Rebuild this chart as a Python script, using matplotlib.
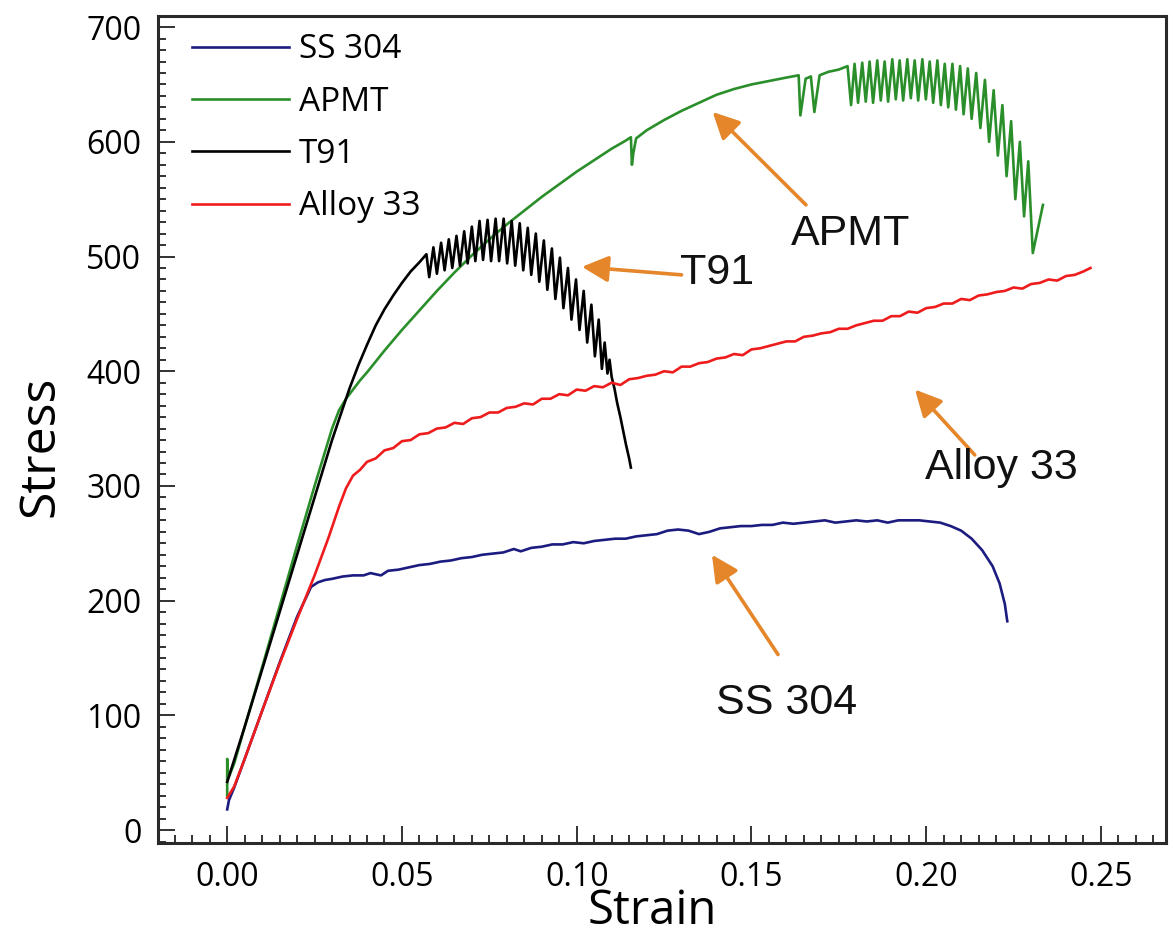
import matplotlib
matplotlib.use("Agg")
import matplotlib.pyplot as plt
from matplotlib.ticker import MultipleLocator
from matplotlib import font_manager

# ---------------------------------------------------------------- data
ss304_strain = [0.0000, 0.0005, 0.0020, 0.0050, 0.0100, 0.0150, 0.0200, 0.0240,
                0.0260, 0.0280, 0.0300, 0.0330, 0.0360, 0.0390, 0.0410, 0.0440,
                0.0460, 0.0490, 0.0520, 0.0550, 0.0580, 0.0610, 0.0640, 0.0670,
                0.0700, 0.0730, 0.0760, 0.0790, 0.0820, 0.0840, 0.0870, 0.0900,
                0.0930, 0.0960, 0.0990, 0.1020, 0.1050, 0.1080, 0.1110, 0.1140,
                0.1170, 0.1200, 0.1230, 0.1260, 0.1290, 0.1320, 0.1350, 0.1380,
                0.1410, 0.1440, 0.1470, 0.1500, 0.1530, 0.1560, 0.1590, 0.1620,
                0.1650, 0.1680, 0.1710, 0.1740, 0.1770, 0.1800, 0.1830, 0.1860,
                0.1890, 0.1920, 0.1950, 0.1980, 0.2010, 0.2040, 0.2070, 0.2100,
                0.2130, 0.2160, 0.2190, 0.2210, 0.2225, 0.2232]
ss304_stress = [18, 26, 37, 62, 104, 146, 186, 212,
                216, 218, 219, 221, 222, 222, 224, 222,
                226, 227, 229, 231, 232, 234, 235, 237,
                238, 240, 241, 242, 245, 243, 246, 247,
                249, 249, 251, 250, 252, 253, 254, 254,
                256, 257, 258, 261, 262, 261, 258, 260,
                263, 264, 265, 265, 266, 266, 268, 267,
                268, 269, 270, 268, 269, 270, 269, 270,
                268, 270, 270, 270, 269, 268, 265, 261,
                254, 244, 230, 215, 197, 182]

apmt_strain = [0.0000, 0.0000, 0.0003, 0.0020, 0.0050, 0.0100, 0.0150, 0.0200,
               0.0250, 0.0280, 0.0300, 0.0320, 0.0340, 0.0360, 0.0380, 0.0400,
               0.0450, 0.0500, 0.0550, 0.0600, 0.0650, 0.0700, 0.0750, 0.0800,
               0.0850, 0.0900, 0.0950, 0.1000, 0.1050, 0.1100, 0.1140, 0.1155,
               0.1158, 0.1162, 0.1170, 0.1200, 0.1250, 0.1300, 0.1350, 0.1400,
               0.1450, 0.1500, 0.1550, 0.1600, 0.1635, 0.1640, 0.1655, 0.1670,
               0.1680, 0.1695, 0.1720, 0.1750, 0.1775,
               0.1785, 0.1795, 0.1805, 0.1817, 0.1827, 0.1838, 0.1848, 0.1860,
               0.1870, 0.1881, 0.1891, 0.1903, 0.1913, 0.1924, 0.1934, 0.1946,
               0.1956, 0.1967, 0.1977, 0.1989, 0.1999, 0.2010, 0.2020, 0.2032,
               0.2042, 0.2053, 0.2063, 0.2075, 0.2085, 0.2097, 0.2107, 0.2119,
               0.2130, 0.2143, 0.2155, 0.2168, 0.2180, 0.2193, 0.2205, 0.2218,
               0.2230, 0.2243, 0.2255, 0.2268, 0.2280, 0.2292, 0.2305, 0.2334]
apmt_stress = [30, 62, 45, 58, 90, 142, 195, 248,
               300, 330, 350, 366, 376, 384, 392, 399,
               418, 436, 453, 470, 486, 501, 515, 528,
               540, 552, 563, 574, 584, 594, 601, 604,
               580, 590, 603, 610, 619, 627, 634, 641,
               646, 650, 653, 656, 658, 623, 655, 657,
               626, 658, 661, 663, 666,
               632, 668, 634, 669, 635, 670, 634, 671,
               636, 670, 635, 672, 637, 671, 636, 672,
               638, 671, 636, 672, 637, 670, 634, 671,
               632, 668, 630, 668, 628, 666, 624, 664,
               620, 660, 612, 654, 600, 645, 588, 632,
               570, 618, 550, 600, 535, 583, 503, 545]

t91_strain = [0.0000, 0.0050, 0.0100, 0.0150, 0.0200, 0.0250, 0.0300, 0.0350,
              0.0375, 0.0400, 0.0425, 0.0450, 0.0475, 0.0500, 0.0525, 0.0550,
              0.0570,
              0.0578, 0.0590, 0.0600, 0.0612, 0.0622, 0.0634, 0.0644, 0.0656,
              0.0666, 0.0678, 0.0688, 0.0700, 0.0710, 0.0722, 0.0732, 0.0745,
              0.0755, 0.0768, 0.0778, 0.0791, 0.0801, 0.0814, 0.0824, 0.0837,
              0.0847, 0.0860, 0.0870, 0.0883, 0.0893, 0.0906, 0.0916, 0.0929,
              0.0939, 0.0952, 0.0962, 0.0975, 0.0985, 0.0998, 0.1008, 0.1020,
              0.1030, 0.1042, 0.1052, 0.1063, 0.1072, 0.1080, 0.1088, 0.1094,
              0.1100, 0.1108, 0.1116, 0.1125, 0.1133, 0.1141, 0.1150, 0.1155]
t91_stress = [42, 90, 140, 190, 240, 290, 340, 385,
              405, 423, 440, 454, 466, 477, 487, 495,
              502,
              482, 508, 485, 512, 488, 515, 490, 518,
              492, 522, 494, 526, 496, 531, 497, 532,
              496, 533, 496, 533, 494, 531, 492, 529,
              488, 525, 484, 520, 478, 514, 471, 507,
              463, 499, 455, 490, 445, 480, 436, 470,
              425, 458, 413, 445, 402, 425, 398, 410,
              395, 385, 372, 360, 348, 336, 324, 316]

alloy33_strain = [0.0000, 0.0020, 0.0050, 0.0100, 0.0150, 0.0200, 0.0250, 0.0290,
                  0.0320, 0.0340, 0.0360, 0.0380, 0.0400, 0.0425, 0.0450, 0.0475,
                  0.0500, 0.0525, 0.0550, 0.0575, 0.0600, 0.0625, 0.0650, 0.0675,
                  0.0700, 0.0725, 0.0750, 0.0775, 0.0800, 0.0825, 0.0850, 0.0875,
                  0.0900, 0.0925, 0.0950, 0.0975, 0.1000, 0.1025, 0.1050, 0.1075,
                  0.1100, 0.1125, 0.1150, 0.1175, 0.1200, 0.1225, 0.1250, 0.1275,
                  0.1300, 0.1325, 0.1350, 0.1375, 0.1400, 0.1425, 0.1450, 0.1475,
                  0.1500, 0.1525, 0.1550, 0.1575, 0.1600, 0.1625, 0.1650, 0.1675,
                  0.1700, 0.1725, 0.1750, 0.1775, 0.1800, 0.1825, 0.1850, 0.1875,
                  0.1900, 0.1925, 0.1950, 0.1975, 0.2000, 0.2025, 0.2050, 0.2075,
                  0.2100, 0.2125, 0.2150, 0.2175, 0.2200, 0.2225, 0.2250, 0.2275,
                  0.2300, 0.2325, 0.2350, 0.2375, 0.2400, 0.2425, 0.2450, 0.2470]
alloy33_stress = [28, 38, 62, 104, 145, 184, 222, 255,
                  282, 298, 309, 314, 321, 324, 331, 333,
                  339, 340, 345, 346, 350, 351, 355, 354,
                  359, 360, 364, 364, 368, 369, 372, 371,
                  376, 376, 380, 379, 384, 383, 387, 386,
                  390, 388, 393, 394, 396, 397, 400, 399,
                  404, 404, 407, 408, 411, 412, 415, 414,
                  419, 420, 422, 424, 426, 426, 430, 431,
                  433, 434, 437, 437, 440, 442, 444, 444,
                  448, 448, 452, 451, 455, 456, 459, 459,
                  463, 462, 466, 467, 469, 470, 473, 472,
                  476, 477, 480, 479, 483, 484, 487, 490]

series_names = ["SS 304", "APMT", "T91", "Alloy 33"]
series_colors = ["#1c1c80", "#2a8f2a", "#000000", "#ee1c1c"]

# ------------------------------------------------------------- styling
available = {f.name for f in font_manager.fontManager.ttflist}
ui_font = "Open Sans" if "Open Sans" in available else "DejaVu Sans"
note_font = "Liberation Sans" if "Liberation Sans" in available else "DejaVu Sans"
arrow_color = "#E5862B"

fig = plt.figure(figsize=(11.73, 9.42), dpi=100)
ax = fig.add_axes([0.1347, 0.1051, 0.9940 - 0.1347, 0.9834 - 0.1051])

data = [(ss304_strain, ss304_stress), (apmt_strain, apmt_stress),
        (t91_strain, t91_stress), (alloy33_strain, alloy33_stress)]
for (x, y), name, color in zip(data, series_names, series_colors):
    ax.plot(x, y, color=color, lw=1.9, label=name, solid_joinstyle="round")

ax.set_xlim(-0.0198, 0.2686)
ax.set_ylim(-11.3, 710)
ax.xaxis.set_major_locator(MultipleLocator(0.05))
ax.xaxis.set_minor_locator(MultipleLocator(0.005))
ax.yaxis.set_major_locator(MultipleLocator(100))
ax.yaxis.set_minor_locator(MultipleLocator(10))
ax.xaxis.set_major_formatter(plt.FuncFormatter(lambda v, p: f"{v:.2f}"))
ax.yaxis.set_major_formatter(plt.FuncFormatter(lambda v, p: f"{v:.0f}"))

ax.tick_params(which="both", direction="in", top=False, right=False, width=1.3, color="#222222")
ax.tick_params(which="major", length=12)
ax.tick_params(which="minor", length=6)
ax.tick_params(axis="x", which="major", pad=13)
ax.tick_params(axis="y", which="major", pad=12)
for lbl in ax.get_xticklabels() + ax.get_yticklabels():
    lbl.set_fontfamily(ui_font)
    lbl.set_fontsize(23)
for sp in ax.spines.values():
    sp.set_linewidth(2.2)
    sp.set_color("#2a2a2a")

ax.set_xlabel("Strain", fontfamily=ui_font, fontsize=34)
ax.set_ylabel("Stress", fontfamily=ui_font, fontsize=36)
ax.xaxis.set_label_coords(0.49, -0.054)
ax.yaxis.set_label_coords(-0.092, 0.48)

leg = ax.legend(loc="upper left", bbox_to_anchor=(0.0208, 0.9947), frameon=False,
                handlelength=2.9, handletextpad=0.3, labelspacing=0.58,
                borderaxespad=0.0, prop={"family": ui_font, "size": 24})

# callouts: (label, text position, arrow tail, arrow tip)
callouts = [
    ("APMT", (0.1785, 520), (0.1656, 545), (0.1389, 626)),
    ("T91", (0.1401, 486), (0.1300, 484), (0.1015, 491)),
    ("Alloy 33", (0.2216, 316), (0.2139, 327), (0.1968, 384)),
    ("SS 304", (0.1601, 111), (0.1576, 153), (0.1387, 240)),
]
for text, tpos, tail, tip in callouts:
    ax.annotate("", xy=tip, xytext=tail,
                arrowprops=dict(arrowstyle="-|>,head_length=0.8,head_width=0.4",
                                color=arrow_color, lw=2.6, mutation_scale=20,
                                shrinkA=0, shrinkB=0))
    ax.text(tpos[0], tpos[1], text, ha="center", va="center",
            fontfamily=note_font, fontsize=31, color="#111111")

fig.savefig("out.png", dpi=100)
